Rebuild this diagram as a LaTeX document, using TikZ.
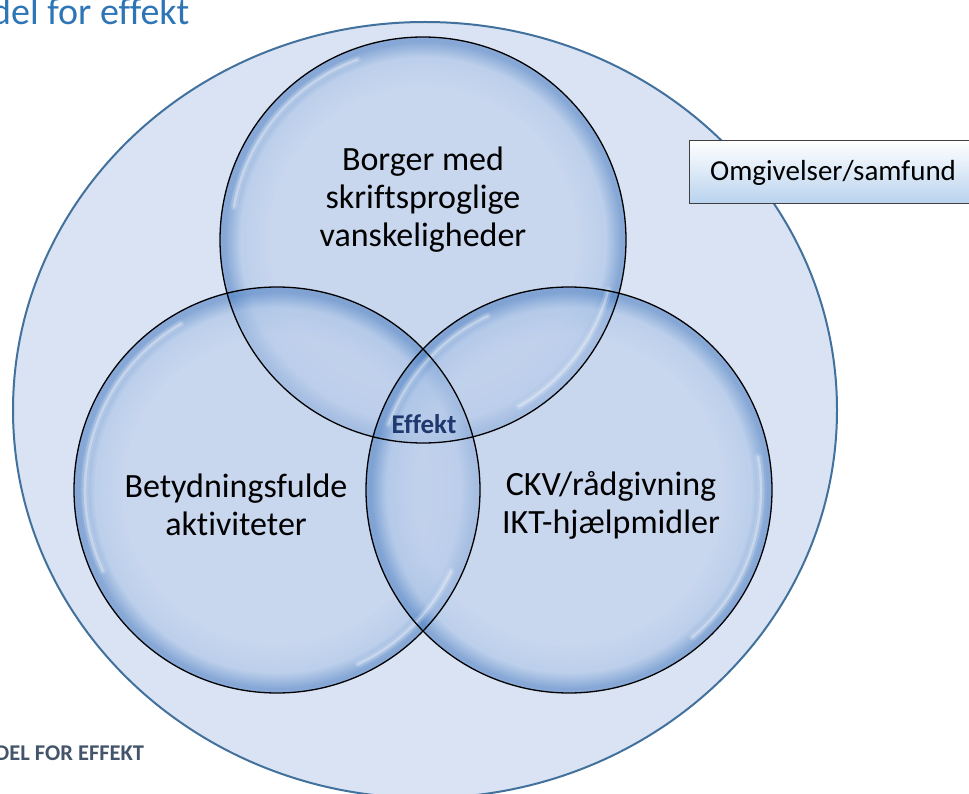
\documentclass[tikz,border=0pt]{standalone}
\usepackage{fontspec}
\setmainfont{Carlito}[Ligatures={NoCommon}]
\usetikzlibrary{shadings}
\definecolor{bgfill}{RGB}{218,227,243}
\definecolor{bgline}{RGB}{65,113,156}
\definecolor{bIn}{RGB}{188,206,235}
\definecolor{bMid}{RGB}{168,194,230}
\definecolor{bEdge}{RGB}{80,130,195}
\definecolor{effektcol}{RGB}{31,56,110}
\definecolor{titlecol}{RGB}{46,117,182}
\definecolor{subcol}{RGB}{68,84,106}
\definecolor{boxbot}{RGB}{184,210,238}
\pgfdeclareradialshading{bubble}{\pgfpoint{0bp}{0bp}}{color(0bp)=(bIn); color(19bp)=(bIn); color(22.5bp)=(bMid); color(24.4bp)=(bEdge); color(25bp)=(bEdge); color(50bp)=(bEdge)}
\begin{document}
\begin{tikzpicture}[x=1pt,y=-1pt,
  bubbletext/.style={font=\fontsize{34}{38}\selectfont, align=center, text=black},
  bubbleline/.style={draw=black, line width=1.3pt},
  shine/.style={white, line cap=round},
  envbox/.style={draw=black!75, line width=1pt, top color=white, bottom color=boxbot, minimum width=288pt, minimum height=63pt, inner sep=0pt, font=\fontsize{29}{34}\selectfont}
]
\useasboundingbox (0,0) rectangle (969,794);
\clip (0,0) rectangle (969,794);
% environment ellipse
\path[fill=bgfill, draw=bgline, line width=2pt] (425,410) ellipse [x radius=412, y radius=388];
% bubbles
\coordinate (ctop) at (423,240);
\coordinate (cleft) at (277,490);
\coordinate (cright) at (569,490);
\foreach \c in {ctop,cleft,cright}{
  \shade[shading=bubble, fill opacity=0.6] (\c) circle [radius=203];
}
% highlights (angles negated because the y axis points down)
\foreach \c/\a/\b in {ctop/-170/-110, ctop/15/60, cleft/-205/-120, cleft/25/65, cright/-10/50, cright/-160/-115}{
  \draw[shine, line width=7pt, opacity=0.16] ([shift={(\a:192)}]\c) arc [start angle=\a, end angle=\b, radius=192];
  \draw[shine, line width=2.5pt, opacity=0.32] ([shift={(\a:192)}]\c) arc [start angle=\a, end angle=\b, radius=192];
}
\foreach \c in {ctop,cleft,cright}{
  \draw[bubbleline] (\c) circle [radius=203];
}
% texts
\node[bubbletext] (ttop) at (423,200) {Borger med\\skriftsproglige\\vanskeligheder};
\node[bubbletext] (tleft) at (236,505) {Betydningsfulde\\aktiviteter};
\node[bubbletext] (tright) at (611,505) {CKV/rådgivning\\IKT-hjælpmidler};
\node[font=\bfseries\fontsize{27}{30}\selectfont, text=effektcol] (effekt) at (424,424) {Effekt};
% environment box
\node[envbox] (omg) at (833,172.5) {Omgivelser/samfund};
% title fragments
\node[anchor=base west, inner sep=0pt, text=titlecol, font=\fontsize{38}{44}\selectfont] (title) at (-9,25) {del for effekt};
\node[anchor=base west, inner sep=0pt, text=subcol, font=\bfseries\fontsize{22.5}{26}\selectfont] (sub) at (-5,760) {DEL FOR EFFEKT};
\end{tikzpicture}
\end{document}
